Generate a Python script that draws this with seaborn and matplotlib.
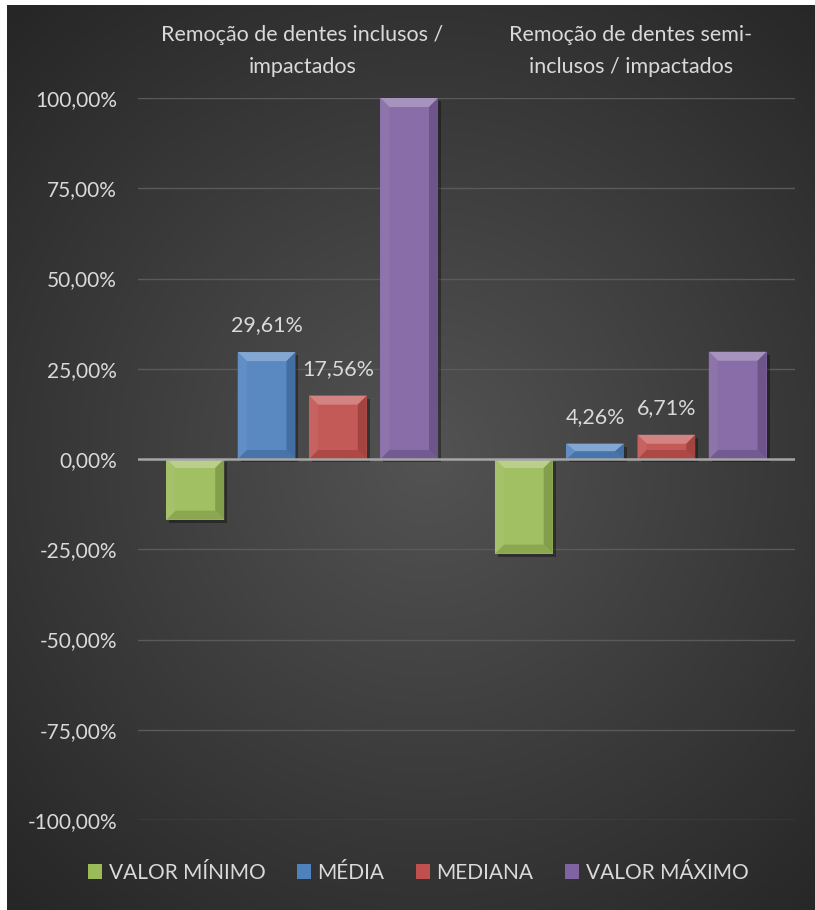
import numpy as np
import pandas as pd
import matplotlib
matplotlib.use("Agg")
import matplotlib.pyplot as plt
from matplotlib.patches import Polygon, Rectangle
from matplotlib.colors import to_rgb
import seaborn as sns

# data (percent)
categories = ["Remoção de dentes inclusos /\nimpactados",
              "Remoção de dentes semi-\ninclusos / impactados"]
series = ["VALOR MÍNIMO", "MÉDIA", "MEDIANA", "VALOR MÁXIMO"]
valor_minimo = [-16.8, -26.2]
media = [29.61, 4.26]
mediana = [17.56, 6.71]
valor_maximo = [100.0, 29.7]
labelled = ["MÉDIA", "MEDIANA"]
colors = ["#9BBB59", "#4F81BD", "#C0504D", "#8064A2"]
yticks = [-100, -75, -50, -25, 0, 25, 50, 75, 100]

rows = []
for s, vals in zip(series, [valor_minimo, media, mediana, valor_maximo]):
    for c, v in zip(categories, vals):
        rows.append({"categoria": c, "serie": s, "valor": v})
df = pd.DataFrame(rows)

sns.set_theme(style="dark")
plt.rcParams["font.family"] = ["Lato", "DejaVu Sans"]
txt = "#D9D9D9"

W, H = 815, 910
fig = plt.figure(figsize=(W / 100, H / 100), dpi=100)
fig.patch.set_facecolor("white")

# dark radial background
bg = fig.add_axes([7 / W, 0, 808 / W, 905 / H])
yy, xx = np.mgrid[0:1:300j, 0:1:300j]
r = np.sqrt((xx - 0.52) ** 2 + ((yy - 0.5) * 1.1) ** 2) / 0.75
r = np.clip(r, 0, 1)
c_in = np.array(to_rgb("#535353"))
c_out = np.array(to_rgb("#262626"))
img = c_in[None, None, :] * (1 - r[..., None]) + c_out[None, None, :] * r[..., None]
bg.imshow(img, aspect="auto", extent=[0, 1, 0, 1], origin="lower")
bg.set_axis_off()

ax = fig.add_axes([138 / W, 1 - 820 / H, 657 / W, 722 / H])
ax.patch.set_alpha(0)
sns.barplot(data=df, x="categoria", y="valor", hue="serie", order=categories,
            hue_order=series, palette=colors, width=0.868, gap=0.19,
            saturation=1, ax=ax, edgecolor="none", zorder=3)
ax.set_ylim(-100, 100)
ax.set_xlim(-0.5, 1.5)

handles, labels = ax.get_legend_handles_labels()
ax.get_legend().remove()

# gridlines and zero line
for t in yticks:
    if t == 0:
        ax.axhline(0, color="#A6A6A6", lw=1.8, zorder=4)
    else:
        ax.axhline(t, color="#5A5A5A", lw=1.0, zorder=1)

ax.set_yticks(yticks)
ax.set_yticklabels([f"{t:.2f}%".replace(".", ",") for t in yticks])
ax.tick_params(axis="y", colors=txt, labelsize=15, length=0, pad=15)
ax.xaxis.tick_top()
ax.set_xticks(range(len(categories)))
ax.set_xticklabels(categories, linespacing=1.75)
ax.tick_params(axis="x", colors=txt, labelsize=15.5, length=0, pad=15)
ax.set_xlabel("")
ax.set_ylabel("")
for s in ax.spines.values():
    s.set_visible(False)
ax.grid(False)

# bevel effect and data labels
fig.canvas.draw()
inv = ax.transData.inverted()
o = inv.transform((0, 0))
p = inv.transform((9, 9))
bx, by = p[0] - o[0], p[1] - o[1]
q = inv.transform((3, -3))
sx, sy = q[0] - o[0], q[1] - o[1]

def mix(col, other, f):
    a = np.array(to_rgb(col)); b = np.array(to_rgb(other))
    return tuple(a * (1 - f) + b * f)

bars = [pt for pt in ax.patches if isinstance(pt, Rectangle) and pt.get_width() > 0]
for bar in bars:
    x0 = bar.get_x(); w = bar.get_width()
    y0 = min(bar.get_y(), bar.get_y() + bar.get_height())
    y1 = max(bar.get_y(), bar.get_y() + bar.get_height())
    if y1 - y0 <= 0:
        continue
    col = bar.get_facecolor()
    bar.set_facecolor(mix(col, "white", 0.06))
    x1 = x0 + w
    b_y = min(by, (y1 - y0) / 2)
    ax.add_patch(Rectangle((x0 + sx, y0 + sy), w, y1 - y0, color="black",
                           alpha=0.35, zorder=2, lw=0))
    ax.add_patch(Polygon([(x0, y1), (x1, y1), (x1 - bx, y1 - b_y), (x0 + bx, y1 - b_y)],
                         closed=True, color=mix(col, "white", 0.3), lw=0, zorder=3.5))
    ax.add_patch(Polygon([(x0, y0), (x1, y0), (x1 - bx, y0 + b_y), (x0 + bx, y0 + b_y)],
                         closed=True, color=mix(col, "black", 0.1), lw=0, zorder=3.5))
    ax.add_patch(Polygon([(x0, y0), (x0, y1), (x0 + bx, y1 - b_y), (x0 + bx, y0 + b_y)],
                         closed=True, color=mix(col, "white", 0.1), lw=0, zorder=3.5))
    ax.add_patch(Polygon([(x1, y0), (x1, y1), (x1 - bx, y1 - b_y), (x1 - bx, y0 + b_y)],
                         closed=True, color=mix(col, "black", 0.15), lw=0, zorder=3.5))

for cont, s in zip(ax.containers, series):
    if s not in labelled:
        continue
    ax.bar_label(cont, labels=[f"{v:.2f}%".replace(".", ",") for v in cont.datavalues],
                 padding=12, color=txt, fontsize=15.5, zorder=5)

fig.legend(handles, labels, loc="center", bbox_to_anchor=(0.513, 1 - 873 / H),
           ncol=4, frameon=False, fontsize=15, labelcolor=txt,
           handlelength=0.7, handleheight=0.7, handletextpad=0.3, columnspacing=1.5)

fig.savefig("out.png", dpi=100)
